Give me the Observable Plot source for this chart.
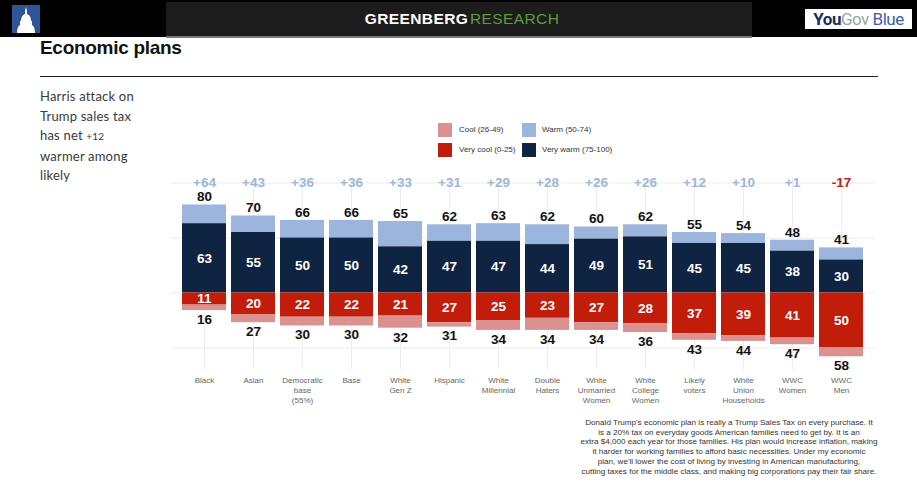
<!DOCTYPE html>
<html>
<head>
<meta charset="utf-8">
<script src="https://cdn.jsdelivr.net/npm/d3@7"></script>
<script src="https://cdn.jsdelivr.net/npm/@observablehq/plot@0.6"></script>
<style>
  html, body { margin: 0; padding: 0; background: #fff; }
  #wrap { position: relative; width: 917px; height: 495px; overflow: hidden; font-family: "Liberation Sans", Arial, sans-serif; }
  .abs { position: absolute; }
  #chart { position: absolute; left: 0; top: 0; }
  .leg { position: absolute; font-size: 8px; color: #333; line-height: 14px; }
  .sw { position: absolute; width: 14px; height: 14px; }
</style>
</head>
<body>
<div id="wrap">
  <!-- header band -->
  <div class="abs" style="left:0;top:0;width:917px;height:37px;background:#000;"></div>
  <div class="abs" style="left:166px;top:2px;width:586px;height:34px;background:#1c1c1c;border-bottom:2px solid #777;"></div>
  <svg class="abs" style="left:12px;top:5px;" width="28" height="28" viewBox="0 0 28 28">
    <rect width="28" height="28" fill="#2f5597"/>
    <path d="M14 2 L15 6 L15 9 C18 10 19 13 19 16 L20 16 L20 20 C22 21 23 24 23 28 L5 28 C5 24 6 21 8 20 L8 16 L9 16 C9 13 10 10 13 9 L13 6 Z" fill="#fff"/>
  </svg>
  <div class="abs" style="left:166px;top:9px;width:592px;text-align:center;font-size:15.5px;line-height:20px;letter-spacing:0.4px;">
    <span style="color:#fff;font-weight:bold;">GREENBERG</span><span style="color:#5f9a3c;font-weight:300;">&#8202;RESEARCH</span>
  </div>
  <div class="abs" style="left:805px;top:9px;width:107px;height:20px;background:#fff;"></div>
  <div class="abs" style="left:805px;top:8px;width:107px;text-align:center;font-family:'Liberation Sans Narrow','Roboto',sans-serif;font-size:17px;line-height:22px;letter-spacing:-0.5px;">
    <span style="color:#1b2d63;font-weight:bold;">You</span><span style="color:#9aa3ad;">Gov</span><span style="color:#3d62a8;"> Blue</span>
  </div>

  <!-- title -->
  <div class="abs" style="left:40px;top:37px;font-size:19px;font-weight:bold;color:#111;line-height:22px;letter-spacing:-0.3px;">Economic plans</div>
  <div class="abs" style="left:40px;top:76px;width:838px;height:1px;background:#222;"></div>

  <!-- side text -->
  <div class="abs" style="left:40px;top:87px;width:125px;font-family:Lato,'Open Sans',sans-serif;font-size:13px;line-height:19.5px;color:#3a3a3a;letter-spacing:0.2px;">Harris attack on<br>Trump sales tax<br>has net <span style="font-size:10px;">+12</span><br>warmer among<br>likely</div>

  <div id="chart"></div>

  <!-- legend -->
  <div class="sw" style="left:438px;top:123px;background:#dc9191;"></div>
  <div class="leg" style="left:459px;top:123px;">Cool (26-49)</div>
  <div class="sw" style="left:522px;top:123px;background:#9bb5dc;"></div>
  <div class="leg" style="left:542px;top:123px;">Warm (50-74)</div>
  <div class="sw" style="left:438px;top:143px;background:#c21d0b;"></div>
  <div class="leg" style="left:459px;top:143px;">Very cool (0-25)</div>
  <div class="sw" style="left:522px;top:143px;background:#0f2342;"></div>
  <div class="leg" style="left:542px;top:143px;">Very warm (75-100)</div>

  <!-- caption -->
  <div class="abs" style="left:564px;top:418px;width:330px;text-align:center;font-size:8.1px;line-height:9.7px;color:#333;">Donald Trump's economic plan is really a Trump Sales Tax on every purchase. It<br>is a 20% tax on everyday goods American families need to get by. It is an<br>extra $4,000 each year for those families. His plan would increase inflation, making<br>it harder for working families to afford basic necessities. Under my economic<br>plan, we'll lower the cost of living by investing in American manufacturing,<br>cutting taxes for the middle class, and making big corporations pay their fair share.</div>
</div>
<script>
const categories = ["Black", "Asian", "Democratic\nbase\n(55%)", "Base", "White\nGen Z", "Hispanic", "White\nMillennial", "Double\nHaters", "White\nUnmarried\nWomen", "White\nCollege\nWomen", "Likely\nvoters", "White\nUnion\nHouseholds", "WWC\nWomen", "WWC\nMen"];
const warmTotal = [80, 70, 66, 66, 65, 62, 63, 62, 60, 62, 55, 54, 48, 41];
const veryWarm  = [63, 55, 50, 50, 42, 47, 47, 44, 49, 51, 45, 45, 38, 30];
const veryCool  = [11, 20, 22, 22, 21, 27, 25, 23, 27, 28, 37, 39, 41, 50];
const coolTotal = [16, 27, 30, 30, 32, 31, 34, 34, 34, 36, 43, 44, 47, 58];
const netWarm   = [64, 43, 36, 36, 33, 31, 29, 28, 26, 26, 12, 10, 1, -17];
const gridValues = [100, 50, 0, -50];

const rows = categories.map((c, i) => ({
  cat: c, warm: warmTotal[i], vwarm: veryWarm[i],
  vcool: -veryCool[i], cool: -coolTotal[i], net: netWarm[i]
}));

const C = {warm: "#9bb5dc", vwarm: "#0f2342", vcool: "#c21d0b", cool: "#dc9191", netPos: "#9db6da", netNeg: "#c3200f"};

const chart = Plot.plot({
  width: 917, height: 495,
  marginLeft: 171, marginRight: 42, marginTop: 177, marginBottom: 125.5,
  style: {fontFamily: "'Liberation Sans', Arial, sans-serif", background: "transparent"},
  x: {domain: categories, paddingInner: 0.1, paddingOuter: 0.16},
  y: {domain: [-70, 105], axis: null},
  marks: [
    Plot.ruleY(gridValues, {stroke: "#ececec", strokeWidth: 1}),
    Plot.gridX({stroke: "#ececec", strokeOpacity: 1}),
    Plot.barY(rows, {x: "cat", y1: "vwarm", y2: "warm", fill: C.warm}),
    Plot.barY(rows, {x: "cat", y1: 0, y2: "vwarm", fill: C.vwarm}),
    Plot.barY(rows, {x: "cat", y1: 0, y2: "vcool", fill: C.vcool}),
    Plot.barY(rows, {x: "cat", y1: "vcool", y2: "cool", fill: C.cool}),
    Plot.text(rows, {x: "cat", y: 100, text: d => (d.net > 0 ? "+" : "") + d.net,
      fill: d => d.net < 0 ? C.netNeg : C.netPos, fontSize: 13.5, fontWeight: "bold"}),
    Plot.text(rows, {x: "cat", y: "warm", dy: -8, text: d => String(d.warm), fill: "#111", fontSize: 13.5, fontWeight: "bold"}),
    Plot.text(rows, {x: "cat", y: d => d.vwarm / 2, text: d => String(d.vwarm), fill: "#fff", fontSize: 13.5, fontWeight: "bold"}),
    Plot.text(rows, {x: "cat", y: d => d.vcool / 2, text: d => String(-d.vcool), fill: "#fff", fontSize: 13.5, fontWeight: "bold"}),
    Plot.text(rows, {x: "cat", y: "cool", dy: 9, text: d => String(-d.cool), fill: "#111", fontSize: 13.5, fontWeight: "bold"}),
    Plot.axisX({tickSize: 0, tickPadding: 6, fontSize: 8, lineHeight: 1.25, fill: "#666", label: null})
  ]
});
document.getElementById("chart").appendChild(chart);
</script>
</body>
</html>
